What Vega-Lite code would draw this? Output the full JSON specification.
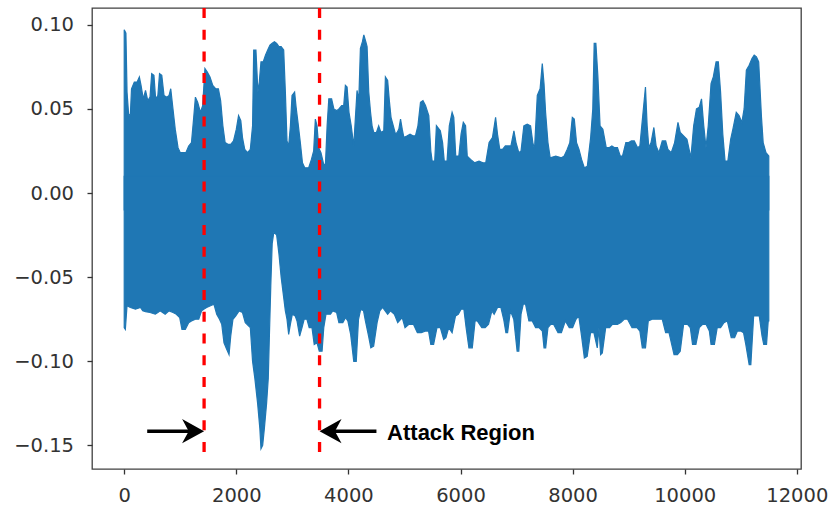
{
  "$schema": "https://vega.github.io/schema/vega-lite/v6.json",
  "width": 709,
  "height": 461,
  "autosize": {"type": "none"},
  "padding": {"left": 92, "top": 8, "right": 29, "bottom": 39},
  "background": "white",
  "config": {"view": {"stroke": "#404040", "strokeWidth": 1.3}},
  "datasets": {
    "upper": [
      {"x":0,"y":0.097},{"x":30,"y":0.095},{"x":50,"y":0.060},{"x":80,"y":0.046},{"x":110,"y":0.047},{"x":130,"y":0.062},{"x":180,"y":0.066},{"x":230,"y":0.066},{"x":270,"y":0.069},{"x":300,"y":0.064},{"x":340,"y":0.056},{"x":380,"y":0.061},{"x":420,"y":0.055},{"x":460,"y":0.057},{"x":490,"y":0.071},{"x":530,"y":0.070},{"x":560,"y":0.056},{"x":600,"y":0.058},{"x":630,"y":0.071},{"x":670,"y":0.070},{"x":710,"y":0.058},{"x":760,"y":0.057},{"x":800,"y":0.058},{"x":830,"y":0.062},{"x":870,"y":0.050},{"x":910,"y":0.038},{"x":960,"y":0.027},{"x":1000,"y":0.024},{"x":1060,"y":0.024},{"x":1100,"y":0.024},{"x":1150,"y":0.028},{"x":1200,"y":0.030},{"x":1240,"y":0.045},{"x":1270,"y":0.057},{"x":1310,"y":0.054},{"x":1360,"y":0.048},{"x":1400,"y":0.052},{"x":1440,"y":0.074},{"x":1480,"y":0.072},{"x":1530,"y":0.069},{"x":1580,"y":0.064},{"x":1630,"y":0.062},{"x":1680,"y":0.062},{"x":1720,"y":0.055},{"x":1760,"y":0.040},{"x":1800,"y":0.030},{"x":1850,"y":0.029},{"x":1900,"y":0.029},{"x":1950,"y":0.031},{"x":2000,"y":0.038},{"x":2040,"y":0.046},{"x":2080,"y":0.043},{"x":2110,"y":0.033},{"x":2150,"y":0.026},{"x":2200,"y":0.024},{"x":2250,"y":0.026},{"x":2290,"y":0.040},{"x":2310,"y":0.085},{"x":2350,"y":0.085},{"x":2385,"y":0.060},{"x":2410,"y":0.066},{"x":2440,"y":0.078},{"x":2480,"y":0.078},{"x":2520,"y":0.082},{"x":2560,"y":0.085},{"x":2600,"y":0.088},{"x":2640,"y":0.089},{"x":2680,"y":0.090},{"x":2720,"y":0.089},{"x":2760,"y":0.087},{"x":2800,"y":0.087},{"x":2845,"y":0.085},{"x":2875,"y":0.060},{"x":2904,"y":0.031},{"x":2934,"y":0.028},{"x":2965,"y":0.040},{"x":2994,"y":0.058},{"x":3040,"y":0.060},{"x":3070,"y":0.050},{"x":3100,"y":0.042},{"x":3142,"y":0.030},{"x":3180,"y":0.018},{"x":3220,"y":0.015},{"x":3290,"y":0.015},{"x":3340,"y":0.020},{"x":3380,"y":0.025},{"x":3410,"y":0.044},{"x":3440,"y":0.040},{"x":3470,"y":0.027},{"x":3510,"y":0.024},{"x":3559,"y":0.017},{"x":3590,"y":0.017},{"x":3620,"y":0.040},{"x":3650,"y":0.056},{"x":3700,"y":0.056},{"x":3740,"y":0.050},{"x":3790,"y":0.049},{"x":3830,"y":0.050},{"x":3880,"y":0.052},{"x":3916,"y":0.052},{"x":3946,"y":0.064},{"x":3976,"y":0.063},{"x":4010,"y":0.048},{"x":4050,"y":0.040},{"x":4095,"y":0.028},{"x":4125,"y":0.045},{"x":4154,"y":0.061},{"x":4185,"y":0.055},{"x":4214,"y":0.086},{"x":4250,"y":0.090},{"x":4275,"y":0.094},{"x":4310,"y":0.090},{"x":4333,"y":0.087},{"x":4363,"y":0.060},{"x":4395,"y":0.048},{"x":4422,"y":0.040},{"x":4452,"y":0.036},{"x":4500,"y":0.036},{"x":4540,"y":0.040},{"x":4580,"y":0.036},{"x":4631,"y":0.037},{"x":4660,"y":0.069},{"x":4700,"y":0.067},{"x":4730,"y":0.055},{"x":4760,"y":0.045},{"x":4800,"y":0.040},{"x":4840,"y":0.035},{"x":4870,"y":0.036},{"x":4900,"y":0.038},{"x":4930,"y":0.044},{"x":4960,"y":0.038},{"x":4990,"y":0.033},{"x":5050,"y":0.034},{"x":5100,"y":0.035},{"x":5150,"y":0.034},{"x":5196,"y":0.034},{"x":5240,"y":0.040},{"x":5286,"y":0.054},{"x":5330,"y":0.055},{"x":5375,"y":0.052},{"x":5434,"y":0.046},{"x":5470,"y":0.025},{"x":5494,"y":0.019},{"x":5540,"y":0.019},{"x":5570,"y":0.040},{"x":5640,"y":0.037},{"x":5680,"y":0.030},{"x":5710,"y":0.019},{"x":5760,"y":0.019},{"x":5800,"y":0.040},{"x":5850,"y":0.048},{"x":5880,"y":0.045},{"x":5915,"y":0.022},{"x":5970,"y":0.022},{"x":6010,"y":0.035},{"x":6050,"y":0.042},{"x":6090,"y":0.040},{"x":6120,"y":0.022},{"x":6180,"y":0.020},{"x":6250,"y":0.018},{"x":6330,"y":0.019},{"x":6400,"y":0.018},{"x":6450,"y":0.018},{"x":6510,"y":0.030},{"x":6570,"y":0.033},{"x":6626,"y":0.045},{"x":6660,"y":0.035},{"x":6700,"y":0.026},{"x":6750,"y":0.026},{"x":6800,"y":0.028},{"x":6860,"y":0.028},{"x":6900,"y":0.028},{"x":6953,"y":0.037},{"x":6990,"y":0.030},{"x":7040,"y":0.024},{"x":7080,"y":0.025},{"x":7130,"y":0.040},{"x":7190,"y":0.041},{"x":7250,"y":0.040},{"x":7290,"y":0.030},{"x":7320,"y":0.026},{"x":7370,"y":0.058},{"x":7420,"y":0.062},{"x":7459,"y":0.077},{"x":7490,"y":0.065},{"x":7518,"y":0.048},{"x":7560,"y":0.030},{"x":7600,"y":0.021},{"x":7700,"y":0.022},{"x":7800,"y":0.021},{"x":7850,"y":0.022},{"x":7905,"y":0.026},{"x":7950,"y":0.030},{"x":7995,"y":0.045},{"x":8030,"y":0.044},{"x":8070,"y":0.030},{"x":8114,"y":0.026},{"x":8160,"y":0.020},{"x":8210,"y":0.015},{"x":8263,"y":0.016},{"x":8322,"y":0.033},{"x":8360,"y":0.050},{"x":8385,"y":0.089},{"x":8415,"y":0.089},{"x":8450,"y":0.070},{"x":8490,"y":0.040},{"x":8540,"y":0.038},{"x":8600,"y":0.027},{"x":8650,"y":0.027},{"x":8700,"y":0.028},{"x":8750,"y":0.027},{"x":8800,"y":0.027},{"x":8850,"y":0.022},{"x":8890,"y":0.022},{"x":8950,"y":0.030},{"x":9000,"y":0.030},{"x":9050,"y":0.031},{"x":9100,"y":0.031},{"x":9160,"y":0.027},{"x":9200,"y":0.028},{"x":9240,"y":0.042},{"x":9300,"y":0.063},{"x":9330,"y":0.040},{"x":9360,"y":0.027},{"x":9400,"y":0.030},{"x":9450,"y":0.039},{"x":9490,"y":0.028},{"x":9540,"y":0.024},{"x":9600,"y":0.031},{"x":9660,"y":0.031},{"x":9700,"y":0.026},{"x":9760,"y":0.024},{"x":9820,"y":0.030},{"x":9880,"y":0.042},{"x":9920,"y":0.036},{"x":9980,"y":0.034},{"x":10040,"y":0.032},{"x":10110,"y":0.021},{"x":10160,"y":0.040},{"x":10210,"y":0.050},{"x":10260,"y":0.051},{"x":10300,"y":0.056},{"x":10340,"y":0.040},{"x":10380,"y":0.027},{"x":10420,"y":0.040},{"x":10470,"y":0.065},{"x":10510,"y":0.069},{"x":10560,"y":0.078},{"x":10600,"y":0.078},{"x":10640,"y":0.060},{"x":10680,"y":0.035},{"x":10720,"y":0.019},{"x":10770,"y":0.019},{"x":10820,"y":0.032},{"x":10860,"y":0.038},{"x":10920,"y":0.048},{"x":10970,"y":0.046},{"x":11020,"y":0.042},{"x":11060,"y":0.050},{"x":11100,"y":0.073},{"x":11150,"y":0.076},{"x":11200,"y":0.080},{"x":11240,"y":0.082},{"x":11280,"y":0.081},{"x":11320,"y":0.078},{"x":11370,"y":0.045},{"x":11400,"y":0.030},{"x":11450,"y":0.024},{"x":11500,"y":0.022}
    ],
    "lower": [
      {"x":0,"y":-0.080},{"x":20,"y":-0.081},{"x":50,"y":-0.067},{"x":110,"y":-0.068},{"x":200,"y":-0.069},{"x":290,"y":-0.068},{"x":330,"y":-0.070},{"x":380,"y":-0.0705},{"x":460,"y":-0.071},{"x":554,"y":-0.072},{"x":600,"y":-0.071},{"x":640,"y":-0.070},{"x":730,"y":-0.072},{"x":800,"y":-0.070},{"x":870,"y":-0.071},{"x":930,"y":-0.072},{"x":990,"y":-0.074},{"x":1030,"y":-0.081},{"x":1090,"y":-0.081},{"x":1150,"y":-0.077},{"x":1200,"y":-0.076},{"x":1270,"y":-0.075},{"x":1330,"y":-0.075},{"x":1380,"y":-0.070},{"x":1420,"y":-0.069},{"x":1470,"y":-0.068},{"x":1540,"y":-0.067},{"x":1600,"y":-0.066},{"x":1650,"y":-0.072},{"x":1700,"y":-0.075},{"x":1740,"y":-0.078},{"x":1780,"y":-0.089},{"x":1830,"y":-0.093},{"x":1870,"y":-0.096},{"x":1900,"y":-0.085},{"x":1940,"y":-0.075},{"x":1990,"y":-0.073},{"x":2050,"y":-0.070},{"x":2110,"y":-0.071},{"x":2160,"y":-0.077},{"x":2250,"y":-0.080},{"x":2290,"y":-0.100},{"x":2330,"y":-0.110},{"x":2380,"y":-0.125},{"x":2420,"y":-0.140},{"x":2440,"y":-0.152},{"x":2470,"y":-0.150},{"x":2500,"y":-0.140},{"x":2540,"y":-0.125},{"x":2570,"y":-0.110},{"x":2590,"y":-0.085},{"x":2615,"y":-0.055},{"x":2640,"y":-0.030},{"x":2670,"y":-0.023},{"x":2720,"y":-0.025},{"x":2760,"y":-0.036},{"x":2800,"y":-0.050},{"x":2845,"y":-0.062},{"x":2875,"y":-0.070},{"x":2904,"y":-0.075},{"x":2934,"y":-0.084},{"x":2964,"y":-0.078},{"x":3000,"y":-0.072},{"x":3050,"y":-0.073},{"x":3083,"y":-0.076},{"x":3130,"y":-0.085},{"x":3172,"y":-0.080},{"x":3210,"y":-0.075},{"x":3260,"y":-0.075},{"x":3300,"y":-0.080},{"x":3350,"y":-0.080},{"x":3390,"y":-0.090},{"x":3440,"y":-0.089},{"x":3480,"y":-0.094},{"x":3530,"y":-0.094},{"x":3560,"y":-0.080},{"x":3600,"y":-0.072},{"x":3680,"y":-0.072},{"x":3720,"y":-0.070},{"x":3790,"y":-0.071},{"x":3830,"y":-0.077},{"x":3900,"y":-0.077},{"x":3950,"y":-0.074},{"x":3990,"y":-0.076},{"x":4040,"y":-0.084},{"x":4095,"y":-0.100},{"x":4140,"y":-0.100},{"x":4180,"y":-0.075},{"x":4220,"y":-0.069},{"x":4270,"y":-0.070},{"x":4303,"y":-0.076},{"x":4360,"y":-0.085},{"x":4400,"y":-0.092},{"x":4450,"y":-0.091},{"x":4512,"y":-0.077},{"x":4560,"y":-0.070},{"x":4610,"y":-0.068},{"x":4700,"y":-0.072},{"x":4750,"y":-0.070},{"x":4820,"y":-0.072},{"x":4880,"y":-0.077},{"x":4960,"y":-0.074},{"x":5010,"y":-0.080},{"x":5080,"y":-0.078},{"x":5160,"y":-0.078},{"x":5230,"y":-0.083},{"x":5300,"y":-0.083},{"x":5380,"y":-0.082},{"x":5430,"y":-0.082},{"x":5470,"y":-0.090},{"x":5520,"y":-0.090},{"x":5580,"y":-0.080},{"x":5640,"y":-0.080},{"x":5700,"y":-0.087},{"x":5740,"y":-0.086},{"x":5790,"y":-0.080},{"x":5850,"y":-0.083},{"x":5911,"y":-0.073},{"x":5960,"y":-0.072},{"x":6010,"y":-0.069},{"x":6060,"y":-0.069},{"x":6100,"y":-0.080},{"x":6150,"y":-0.092},{"x":6210,"y":-0.092},{"x":6260,"y":-0.076},{"x":6300,"y":-0.076},{"x":6380,"y":-0.080},{"x":6440,"y":-0.080},{"x":6500,"y":-0.078},{"x":6560,"y":-0.070},{"x":6600,"y":-0.072},{"x":6660,"y":-0.068},{"x":6720,"y":-0.068},{"x":6770,"y":-0.075},{"x":6810,"y":-0.083},{"x":6840,"y":-0.083},{"x":6890,"y":-0.070},{"x":6950,"y":-0.075},{"x":7010,"y":-0.094},{"x":7040,"y":-0.094},{"x":7080,"y":-0.072},{"x":7120,"y":-0.066},{"x":7160,"y":-0.066},{"x":7220,"y":-0.076},{"x":7280,"y":-0.076},{"x":7340,"y":-0.080},{"x":7400,"y":-0.080},{"x":7460,"y":-0.082},{"x":7490,"y":-0.092},{"x":7520,"y":-0.092},{"x":7560,"y":-0.080},{"x":7610,"y":-0.078},{"x":7660,"y":-0.078},{"x":7740,"y":-0.083},{"x":7800,"y":-0.083},{"x":7870,"y":-0.076},{"x":7940,"y":-0.080},{"x":8000,"y":-0.080},{"x":8060,"y":-0.075},{"x":8110,"y":-0.073},{"x":8160,"y":-0.085},{"x":8210,"y":-0.098},{"x":8260,"y":-0.097},{"x":8320,"y":-0.083},{"x":8380,"y":-0.083},{"x":8440,"y":-0.092},{"x":8470,"y":-0.080},{"x":8500,"y":-0.096},{"x":8530,"y":-0.095},{"x":8590,"y":-0.080},{"x":8660,"y":-0.080},{"x":8710,"y":-0.078},{"x":8800,"y":-0.078},{"x":8860,"y":-0.077},{"x":8920,"y":-0.075},{"x":8980,"y":-0.075},{"x":9060,"y":-0.080},{"x":9150,"y":-0.080},{"x":9200,"y":-0.082},{"x":9244,"y":-0.092},{"x":9300,"y":-0.092},{"x":9350,"y":-0.076},{"x":9420,"y":-0.075},{"x":9480,"y":-0.075},{"x":9540,"y":-0.075},{"x":9600,"y":-0.075},{"x":9660,"y":-0.083},{"x":9720,"y":-0.083},{"x":9810,"y":-0.096},{"x":9870,"y":-0.096},{"x":9920,"y":-0.094},{"x":9980,"y":-0.078},{"x":10050,"y":-0.078},{"x":10100,"y":-0.080},{"x":10140,"y":-0.090},{"x":10200,"y":-0.090},{"x":10260,"y":-0.080},{"x":10320,"y":-0.078},{"x":10380,"y":-0.078},{"x":10440,"y":-0.082},{"x":10470,"y":-0.090},{"x":10530,"y":-0.090},{"x":10580,"y":-0.080},{"x":10640,"y":-0.080},{"x":10700,"y":-0.077},{"x":10760,"y":-0.076},{"x":10830,"y":-0.086},{"x":10890,"y":-0.086},{"x":10940,"y":-0.082},{"x":11000,"y":-0.082},{"x":11050,"y":-0.083},{"x":11090,"y":-0.090},{"x":11150,"y":-0.102},{"x":11180,"y":-0.102},{"x":11230,"y":-0.073},{"x":11290,"y":-0.073},{"x":11330,"y":-0.073},{"x":11380,"y":-0.085},{"x":11410,"y":-0.090},{"x":11460,"y":-0.090},{"x":11490,"y":-0.076},{"x":11500,"y":-0.076}
    ],
    "vlines": [{"x": 1425, "top": 0.110, "bottom": -0.1566}, {"x": 3485, "top": 0.110, "bottom": -0.1566}],
    "shafts": [{"x": 410, "x2": 1211, "y": -0.1415}, {"x": 4500, "x2": 3699, "y": -0.1415}],
    "heads": [{"x": 1425, "y": -0.1415, "dir": "right"}, {"x": 3485, "y": -0.1415, "dir": "left"}],
    "label": [{"x": 4690, "y": -0.1465, "text": "Attack Region"}]
  },
  "encoding": {
    "x": {
      "field": "x", "type": "quantitative", "title": null,
      "scale": {"domain": [-575, 12075], "nice": false, "zero": false},
      "axis": {"values": [0, 2000, 4000, 6000, 8000, 10000, 12000], "format": "d", "domain": false, "grid": false, "labelFont": "DejaVu Sans", "labelFontSize": 19.5, "labelColor": "#333333", "tickColor": "#333333", "tickSize": 5, "tickWidth": 1.3, "labelPadding": 12, "labelFlush": false, "labelOverlap": false}
    },
    "y": {
      "field": "y", "type": "quantitative", "title": null,
      "scale": {"domain": [-0.164, 0.110], "nice": false, "zero": false},
      "axis": {"values": [-0.15, -0.1, -0.05, 0, 0.05, 0.1], "format": ".2f", "domain": false, "grid": false, "labelFont": "DejaVu Sans", "labelFontSize": 19.5, "labelColor": "#333333", "tickColor": "#333333", "tickSize": 5, "tickWidth": 1.3, "labelPadding": 13.5, "labelOverlap": false}
    }
  },
  "layer": [
    {"data": {"name": "upper"}, "mark": {"type": "area", "color": "#1f77b4", "opacity": 1, "stroke": "#1f77b4", "strokeWidth": 1.2}, "encoding": {"y2": {"datum": -0.01}}},
    {"data": {"name": "lower"}, "mark": {"type": "area", "color": "#1f77b4", "opacity": 1, "stroke": "#1f77b4", "strokeWidth": 1.2}, "encoding": {"y2": {"datum": 0.01}}},
    {"data": {"name": "vlines"}, "mark": {"type": "rule", "color": "#ff0000", "strokeWidth": 3.3, "strokeDash": [10, 11.7]}, "encoding": {"y": {"field": "top", "type": "quantitative", "title": null}, "y2": {"field": "bottom"}}},
    {"data": {"name": "shafts"}, "mark": {"type": "rule", "color": "black", "strokeWidth": 3.5}, "encoding": {"x2": {"field": "x2"}}},
    {"data": {"name": "heads"}, "mark": {"type": "point", "filled": true, "color": "black", "opacity": 1, "size": 1936, "strokeWidth": 0}, "encoding": {"shape": {"field": "dir", "type": "nominal", "legend": null, "scale": {"domain": ["right", "left"], "range": ["M 0 0 L -1 -0.55 L -0.7 0 L -1 0.55 Z", "M 0 0 L 1 -0.55 L 0.7 0 L 1 0.55 Z"]}}}},
    {"data": {"name": "label"}, "mark": {"type": "text", "font": "Liberation Sans", "fontWeight": "bold", "fontSize": 22, "align": "left", "baseline": "alphabetic", "color": "black"}, "encoding": {"text": {"field": "text"}}}
  ]
}
